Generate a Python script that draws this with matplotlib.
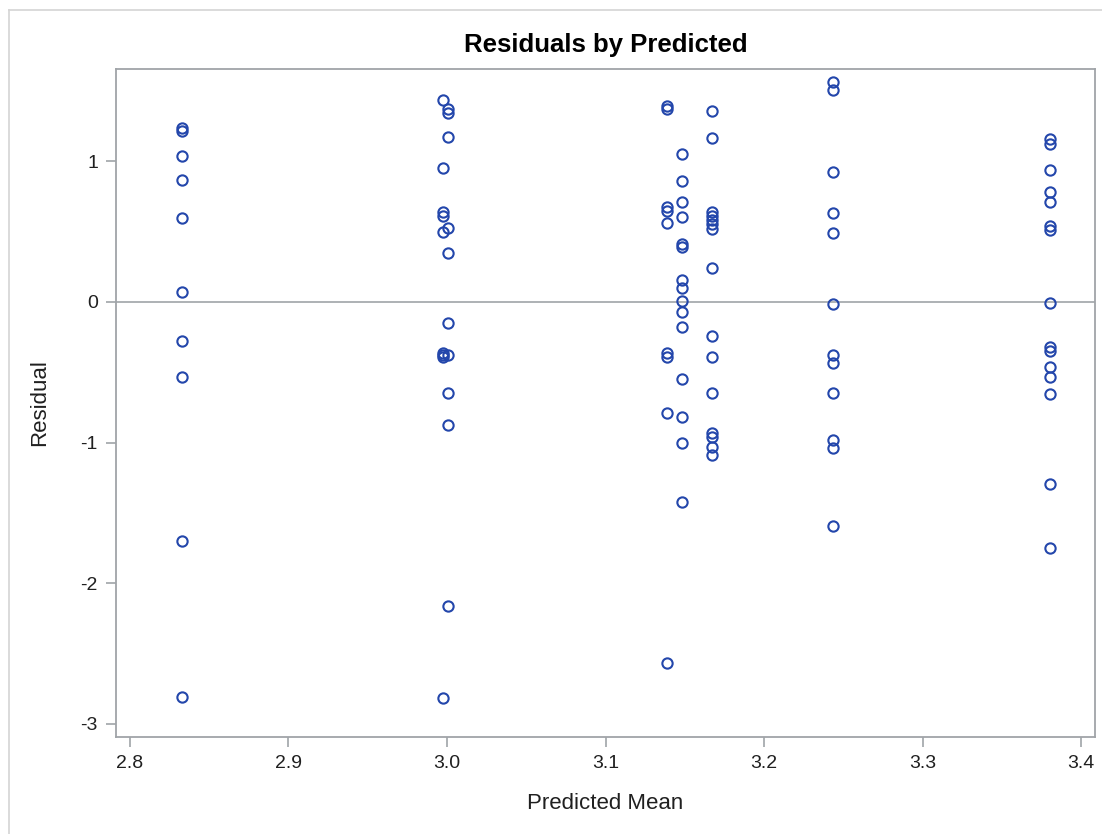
import matplotlib
matplotlib.use("Agg")
import matplotlib.pyplot as plt
from matplotlib.lines import Line2D

plt.rcParams['font.family'] = ['Liberation Sans', 'DejaVu Sans']

# Predicted mean (x) for each group and residuals (y)
x_g1 = [2.8327] * 10
y_g1 = [1.235, 1.215, 1.038, 0.867, 0.597, 0.068, -0.278, -0.536, -1.70, -2.81]

x_g2a = [2.9973] * 9
y_g2a = [1.436, 0.954, 0.642, 0.611, 0.499, -0.361, -0.378, -0.394, -2.817]
x_g2b = [3.0007] * 10
y_g2b = [1.370, 1.346, 1.173, 0.523, 0.350, -0.152, -0.378, -0.646, -0.876, -2.165]

x_g3a = [3.1386] * 9
y_g3a = [1.393, 1.370, 0.673, 0.649, 0.559, -0.366, -0.390, -0.792, -2.568]
x_g3b = [3.1485] * 15
y_g3b = [1.052, 0.858, 0.708, 0.602, 0.412, 0.388, 0.159, 0.102, 0.010,
         -0.070, -0.179, -0.546, -0.816, -1.006, -1.421]
x_g3c = [3.1670] * 15
y_g3c = [1.358, 1.164, 0.642, 0.611, 0.583, 0.552, 0.516, 0.239, -0.240,
         -0.390, -0.646, -0.935, -0.963, -1.030, -1.089]

x_g4 = [3.2437] * 12
y_g4 = [1.566, 1.507, 0.926, 0.634, 0.488, -0.018, -0.378, -0.437, -0.646,
        -0.982, -1.041, -1.594]

x_g5 = [3.3807] * 15
y_g5 = [1.156, 1.123, 0.938, 0.784, 0.713, 0.540, 0.511, -0.006, -0.319,
        -0.347, -0.461, -0.532, -0.655, -1.295, -1.750]

xs = x_g1 + x_g2a + x_g2b + x_g3a + x_g3b + x_g3c + x_g4 + x_g5
ys = y_g1 + y_g2a + y_g2b + y_g3a + y_g3b + y_g3c + y_g4 + y_g5

x_ticks = [2.8, 2.9, 3.0, 3.1, 3.2, 3.3, 3.4]
x_tick_labels = ["2.8", "2.9", "3.0", "3.1", "3.2", "3.3", "3.4"]
y_ticks = [-3, -2, -1, 0, 1]
y_tick_labels = ["-3", "-2", "-1", "0", "1"]

W, H = 1102, 834
fig = plt.figure(figsize=(W / 100, H / 100), dpi=100)
fig.patch.set_facecolor('white')

# outer light frame (top and left edges)
fig.add_artist(Line2D([9 / W, 9 / W], [0, 1 - 10 / H], transform=fig.transFigure,
                      color='#d4d4d4', lw=1.2))
fig.add_artist(Line2D([9 / W, 1], [1 - 10 / H, 1 - 10 / H], transform=fig.transFigure,
                      color='#d4d4d4', lw=1.2))

ax = fig.add_axes([116 / W, 97 / H, (1095 - 116) / W, (765 - 97) / H])
ax.set_facecolor('white')

ax.axhline(0, color='#a0a4a8', lw=1.2, zorder=1)
ax.plot(xs, ys, linestyle='none', marker='o', markersize=7.4,
        markerfacecolor='none', markeredgecolor='#2346ab', markeredgewidth=1.5,
        zorder=3)

ax.set_xlim(2.7912, 3.4088)
ax.set_ylim(-3.095, 1.657)
ax.set_xticks(x_ticks)
ax.set_xticklabels(x_tick_labels)
ax.set_yticks(y_ticks)
ax.set_yticklabels(y_tick_labels)

for s in ax.spines.values():
    s.set_color('#a0a4a8')
    s.set_linewidth(1.3)

ax.tick_params(axis='both', colors='#a0a4a8', labelcolor='#202020',
               labelsize=14, length=7, width=1.2, pad=6)

ax.set_xlabel('Predicted Mean', fontsize=16, color='#202020', labelpad=15)
ax.set_ylabel('Residual', fontsize=16, color='#202020', labelpad=22)
ax.set_title('Residuals by Predicted', fontsize=18.5, fontweight='bold',
             color='black', pad=12)

fig.savefig('out.png', dpi=100)
